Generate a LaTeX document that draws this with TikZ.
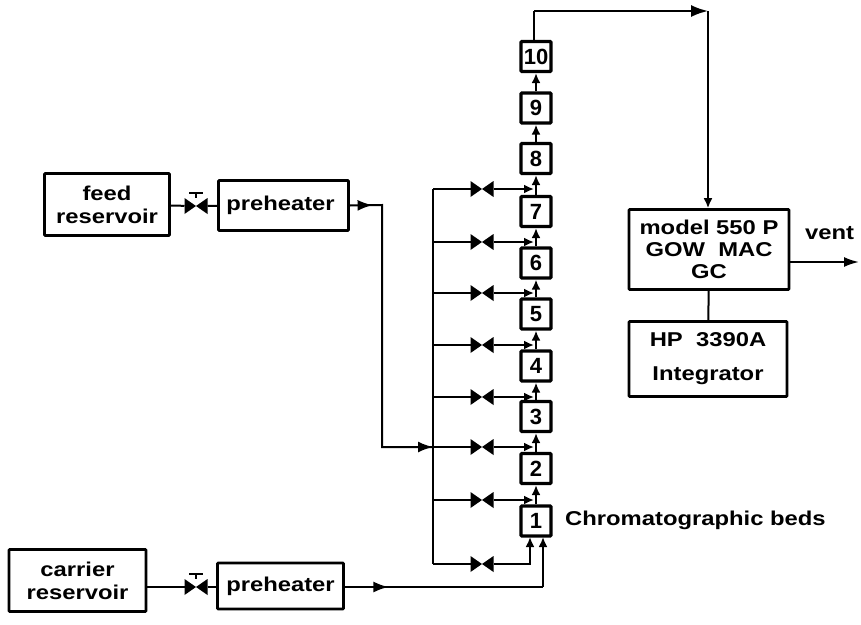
\documentclass[tikz,border=0pt]{standalone}
\usepackage{fontspec}
\setmainfont[FakeStretch=1.19]{Liberation Sans}
\newfontfamily\digitfont{Liberation Sans}
\usetikzlibrary{arrows.meta,calc,decorations.markings}
\tikzset{
  x=1pt,y=-1pt,
  box/.style={draw=black,line width=2.6pt,fill=white,inner sep=0pt,align=center,font=\fontsize{20}{22}\selectfont\bfseries,rounded corners=0.8pt},
  bed/.style={box,minimum width=30pt,minimum height=30pt,line width=3.2pt,font=\digitfont\fontsize{22}{24}\selectfont\bfseries},
  line/.style={draw=black,line width=2pt},
  tip/.style={-{Latex[length=10pt,width=9pt]}},
  midtip/.style={line,postaction={decorate},decoration={markings,mark=at position #1 with {\arrow{Latex[length=15pt,width=11pt]}}}},
  valve/.style={minimum width=23pt,minimum height=16pt,inner sep=0pt,outer sep=0pt,
    path picture={\fill[black] (path picture bounding box.north west) -- (path picture bounding box.south east) -- (path picture bounding box.north east) -- (path picture bounding box.south west) -- cycle;}},
  lbl/.style={inner sep=0pt,font=\fontsize{20}{22}\selectfont\bfseries}
}
\begin{document}
\begin{tikzpicture}
\useasboundingbox (0,0) rectangle (861,624);
% reservoirs and preheaters
\node[box,minimum width=125pt,minimum height=62pt] (feed) at (107,204.5) {feed\\[1pt]reservoir};
\node[box,minimum width=130pt,minimum height=50pt] (pre1) at (283.5,205.5) {\kern-6pt preheater};
\node[box,minimum width=137pt,minimum height=62pt] (carrier) at (77.5,580.5) {carrier\\[1pt]reservoir};
\node[box,minimum width=126pt,minimum height=46pt] (pre2) at (280.5,586) {preheater};
\node[valve] (vf) at (196,206) {};
\node[valve] (vc) at (196,587) {};
\coordinate (vft) at (196,193);
\coordinate (vct) at (196,574);
\node[box,minimum width=160pt,minimum height=80pt] (gc) at (709,249.5) {model 550 P\\GOW\ \ MAC\\GC};
\node[box,minimum width=158pt,minimum height=75pt] (hp) at (708,359) {HP\ \ 3390A\\[12pt]Integrator};
% beds
\foreach \n/\yy in {1/521,2/468.5,3/416.5,4/366,5/314,6/263,7/211.5,8/158.5,9/108,10/56.5}{
  \node[bed] (b\n) at (536,\yy) {\n};
}
% bed chain
\foreach \a/\b in {1/2,2/3,3/4,4/5,5/6,6/7,7/8,8/9,9/10}{
  \draw[line,tip] (b\a.north) -- (b\b.south);
}
% manifold
\coordinate (mt) at (433,189);
\coordinate (mb) at (433,564);
\draw[line] (mt) -- (mb);
\foreach \n/\yy in {7/189,6/242,5/293,4/345,3/397,2/447,1/500}{
  \coordinate (m\n) at (433,\yy);
  \coordinate (e\n) at (534,\yy);
  \node[valve] (v\n) at (482,\yy) {};
  \draw[line] (m\n) -- (v\n);
  \draw[line,tip] (v\n) -- (e\n);
}
\node[valve] (v0) at (482,564) {};
\coordinate (c0) at (530,564);
\coordinate (e0) at (530,537);
\draw[line] (mb) -- (v0);
\draw[line,tip] (v0) -- (c0) -- (e0);
% feed line
\draw[line] (feed) -- (vf);
\draw[line] (vf) -- (pre1);
\draw[line] (vft) -- (vf);
\draw[line] ($(vft)+(-7,0)$) -- ($(vft)+(7,0)$);
\coordinate (fc1) at (382,205);
\coordinate (fc2) at (382,447);
\draw[midtip=0.07] (pre1.east) -- (fc1) -- (fc2) -- (m2);
\draw[line,-{Latex[length=15pt,width=11pt]}] (fc2) -- (m2);
% carrier line
\draw[line] (carrier.east |- vc) -- (vc);
\draw[line] (vc) -- (pre2.west |- vc);
\draw[line] (vct) -- (vc);
\draw[line] ($(vct)+(-7,0)$) -- ($(vct)+(7,0)$);
\coordinate (cc) at (543,587);
\coordinate (ce) at (543,537);
\draw[midtip=0.22] (pre2.east |- cc) -- (cc);
\draw[line,tip] (cc) -- (ce);
% outlet
\coordinate (o1) at (534,11);
\coordinate (o2) at (708,11);
\draw[line] (b10.north -| o1) -- (o1);
\draw[line,-{Latex[length=17pt,width=12pt]}] (o1) -- (o2);
\draw[line,tip] (o2) -- (gc.north -| o2);
\draw[line] (gc) -- (hp);
\coordinate (ve) at (859,262);
\draw[line,-{Latex[length=15pt,width=10pt]}] (gc.east |- ve) -- (ve);
\node[lbl,anchor=west] (vent) at (805,233) {vent};
\node[lbl,anchor=west] (chrom) at (565,520) {Chromatographic beds};
\end{tikzpicture}
\end{document}
